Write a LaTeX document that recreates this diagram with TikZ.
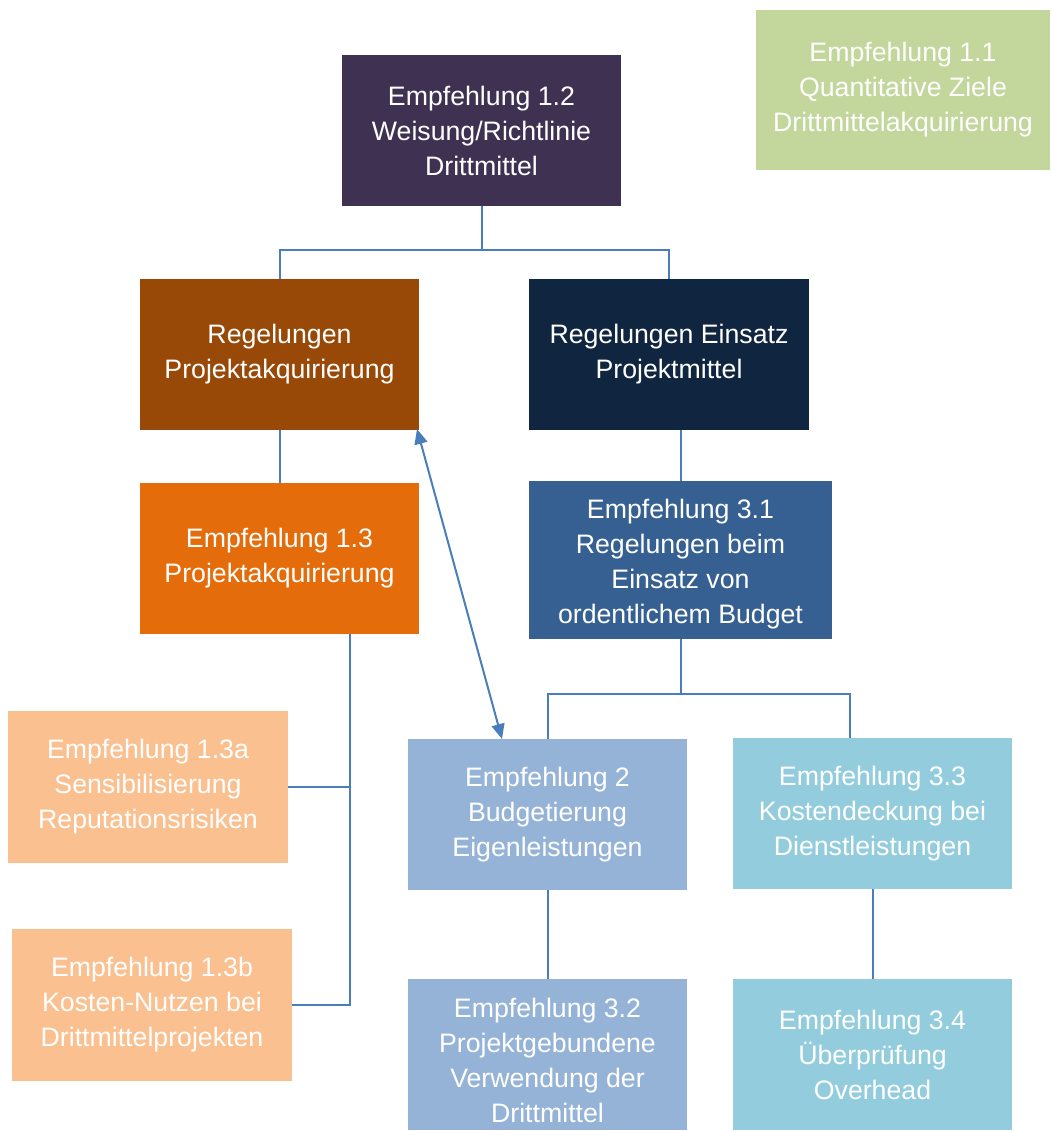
\documentclass[tikz,border=0pt]{standalone}
\usepackage{fontspec}
\setmainfont{Liberation Sans}
\usetikzlibrary{arrows.meta}
\definecolor{cB12}{HTML}{3F3151}
\definecolor{cB11}{HTML}{C3D69B}
\definecolor{cRP}{HTML}{984807}
\definecolor{cRE}{HTML}{10253F}
\definecolor{cE13}{HTML}{E46C0A}
\definecolor{cE31}{HTML}{376092}
\definecolor{cPeach}{HTML}{FAC090}
\definecolor{cLB}{HTML}{95B3D7}
\definecolor{cAqua}{HTML}{93CDDD}
\definecolor{cLine}{HTML}{4A7EBB}
\tikzset{
  txt/.style={inner sep=0pt, align=center, text=white,
    font=\fontsize{26.7}{35}\selectfont},
  box/.style={txt, draw=none, minimum width=279pt, minimum height=151pt},
  conn/.style={draw=cLine, line width=2pt},
  dbl/.style={conn, {Triangle[length=15pt,width=13pt]}-{Triangle[length=15pt,width=13pt]}}
}
\begin{document}
\begin{tikzpicture}[x=1pt,y=-1pt]
\useasboundingbox (0,0) rectangle (1051,1131);
\node[box, fill=cB12] (b12) at (481.5,130.5) {Empfehlung 1.2\\Weisung/Richtlinie\\Drittmittel};
\node[box, fill=cB11, minimum width=294pt, minimum height=160pt] (b11) at (903,90) {Empfehlung 1.1\\Quantitative Ziele\\Drittmittelakquirierung};
\node[box, fill=cRP] (rp) at (279.5,354.5) {Regelungen\\Projektakquirierung};
\node[box, fill=cRE, minimum width=280pt] (re) at (669,354.5) {Regelungen Einsatz\\Projektmittel};
\node[box, fill=cE13] (e13) at (279.5,558.5) {Empfehlung 1.3\\Projektakquirierung};
\node[box, fill=cE31, minimum width=303pt, minimum height=158pt] (e31) at (680.5,560) {};
\node[txt] (e31t) at ([yshift=-4pt]e31.center) {Empfehlung 3.1\\Regelungen beim\\Einsatz von\\ordentlichem Budget};
\node[box, fill=cPeach, minimum width=280pt, minimum height=152pt] (e13a) at (148,787) {Empfehlung 1.3a\\Sensibilisierung\\Reputationsrisiken};
\node[box, fill=cPeach, minimum width=280pt, minimum height=152pt] (e13b) at (152,1005) {Empfehlung 1.3b\\Kosten-Nutzen bei\\Drittmittelprojekten};
\node[box, fill=cLB] (e2) at (547.5,814.5) {Empfehlung 2\\Budgetierung\\Eigenleistungen};
\node[box, fill=cAqua] (e33) at (872.5,813.5) {Empfehlung 3.3\\Kostendeckung bei\\Dienstleistungen};
\node[box, fill=cLB] (e32) at (547.5,1054.5) {};
\node[txt] (e32t) at ([yshift=-6pt]e32.center) {Empfehlung 3.2\\Projektgebundene\\Verwendung der\\Drittmittel};
\node[box, fill=cAqua] (e34) at (872.5,1054.5) {Empfehlung 3.4\\Überprüfung\\Overhead};

% top tree
\draw[conn] (b12.south) -- ++(0,44) coordinate (j1);
\draw[conn] (rp.north) |- (j1) -| (re.north);
% left column
\draw[conn] (rp.south) -- (e13.north);
\coordinate (t1) at (350,634);
\draw[conn] (t1) |- (e13b.east);
\draw[conn] (e13a.east) -- (e13a.east -| t1);
% right column
\draw[conn] (e31.north) -- (e31.north |- re.south);
\draw[conn] (e31.south) -- ++(0,55) coordinate (j2);
\coordinate (e33t) at (850,738);
\draw[conn] (e2.north) |- (j2) -| (e33t);
\draw[conn] (e2.south) -- (e32.north);
\draw[conn] (e33.south) -- (e34.north);
% double arrow
\coordinate (a1) at (417,429);
\coordinate (a2) at (502,739);
\draw[dbl] (a1) -- (a2);
\end{tikzpicture}
\end{document}
